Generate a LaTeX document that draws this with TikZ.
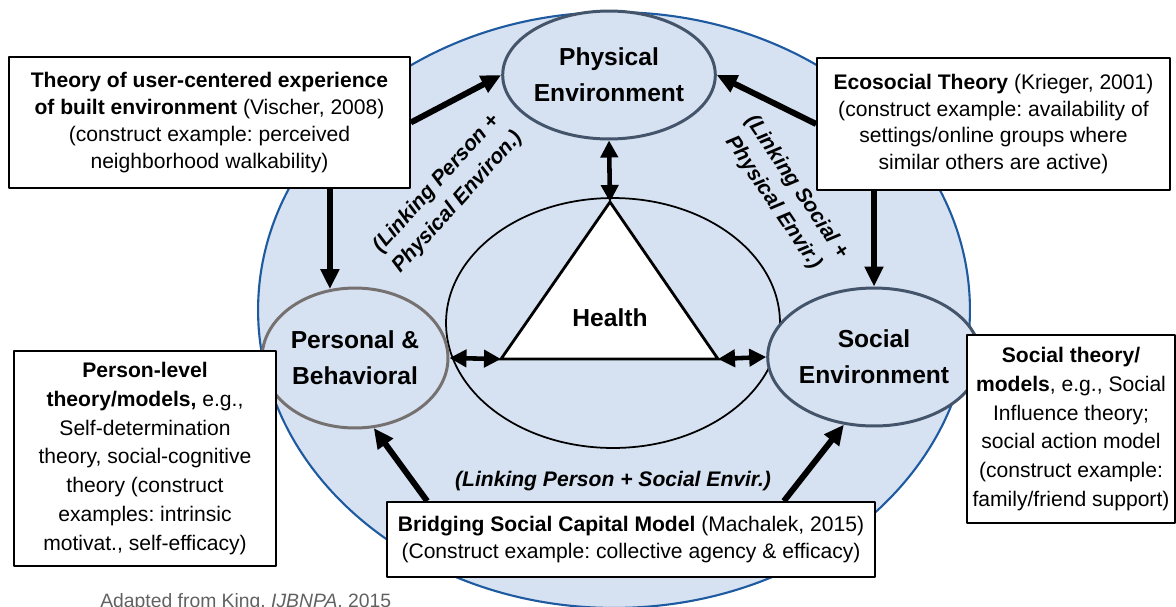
\documentclass[tikz,border=0pt]{standalone}
\usepackage{fontspec}
\setmainfont{Liberation Sans}
\usetikzlibrary{arrows.meta,shapes.geometric}
\definecolor{bgblue}{RGB}{214,226,241}
\definecolor{rimblue}{RGB}{30,90,160}
\definecolor{slate}{RGB}{68,84,106}
\definecolor{warmgray}{RGB}{118,113,113}
\frenchspacing
\begin{document}
\begin{tikzpicture}[
		x=0.02cm, y=-0.02cm,
		line join=round,
		font=\fontsize{12}{15.2}\selectfont,
		theorybox/.style={draw=black, line width=1pt, fill=white, align=center, inner sep=0pt},
		sidebox/.style={theorybox, font=\fontsize{12}{16.4}\selectfont},
		sphere/.style={ellipse, fill=bgblue, line width=1.7pt, inner sep=0pt, align=center,
			font=\fontsize{14}{20.5}\selectfont\bfseries},
		bigarrow/.style={-{Triangle[length=0.4cm,width=0.36cm]}, line width=3.4pt},
		twoway/.style={{Triangle[length=0.34cm,width=0.34cm]}-{Triangle[length=0.34cm,width=0.34cm]}, line width=2.6pt},
		linktext/.style={font=\fontsize{12}{16}\selectfont\bfseries\itshape, align=center}
	]
	
	\useasboundingbox (0,0) rectangle (1176,606);
	
	% Outer ellipse
	\node[ellipse, fill=bgblue, draw=rimblue, line width=1.2pt,
		minimum width=14.24cm, minimum height=11.92cm] (outer) at (614,310) {};
	
	% Ring around health
	\node[ellipse, draw=black, line width=1pt,
		minimum width=6.68cm, minimum height=5cm] (ring) at (613,323) {};
	
	% Health triangle
	\coordinate (apex) at (610,202);
	\coordinate (left) at (501,359);
	\coordinate (right) at (718,359);
	\draw[fill=white, line width=1.6pt, line join=miter] (apex) -- (left) -- (right) -- cycle;
	\node[font=\fontsize{14}{17}\selectfont\bfseries] (health) at (610,318) {Health};
	
	% Three spheres
	\node[sphere, draw=slate, minimum width=3.76cm, minimum height=2.56cm] (phys) at (609,75)
		{Physical\\Environment};
	\node[sphere, draw=warmgray, minimum width=3.72cm, minimum height=2.8cm] (pers) at (355,358)
		{Personal \&\\Behavioral};
	\node[sphere, draw=slate, minimum width=3.76cm, minimum height=2.76cm] (soc) at (874,357)
		{Social\\Environment};
	
	% Theory boxes
	\node[theorybox, minimum width=8.02cm, minimum height=2.62cm] (built) at (209.5,122.5)
		{\textbf{Theory of user-centered experience}\\
		 \textbf{of built environment} (Vischer, 2008)\\
		 (construct example: perceived\\
		 neighborhood walkability)};
	\node[theorybox, minimum width=7.06cm, minimum height=2.64cm] (eco) at (993.5,124)
		{\textbf{Ecosocial Theory} (Krieger, 2001)\\
		 (construct example: availability of\\
		 settings/online groups where\\
		 similar others are active)};
	\node[sidebox, minimum width=5.24cm, minimum height=4.3cm] (person) at (145,458.5)
		{\textbf{Person-level}\\
		 \textbf{theory/models,} e.g.,\\
		 Self-determination\\
		 theory, social-cognitive\\
		 theory (construct\\
		 examples: intrinsic\\
		 motivat., self-efficacy)};
	\node[sidebox, minimum width=4.16cm, minimum height=3.76cm] (social) at (1071,429)
		{\textbf{Social theory/}\\
		 \textbf{models}, e.g., Social\\
		 Influence theory;\\
		 social action model\\
		 (construct example:\\
		 family/friend support)};
	\node[theorybox, minimum width=9.76cm, minimum height=1.5cm] (bridge) at (631,539.5)
		{\textbf{Bridging Social Capital Model} (Machalek, 2015)\\
		 (Construct example: collective agency \& efficacy)};
	
	% Linking labels
	\node[linktext, rotate=48] (linkpp) at (447,193) {(Linking Person +\\Physical Environ.)};
	\node[linktext, rotate=-56] (linksp) at (785,195) {(Linking Social +\\Physical Envir.)};
	\node[linktext] (linkps) at (613,481) {(Linking Person + Social Envir.)};
	
	% Arrows from theories
	\draw[bigarrow] (built.east) -- (phys.west);
	\draw[bigarrow] (eco.west) -- (phys.east);
	\draw[bigarrow] (pers.110 |- built.south) -- (pers.110);
	\draw[bigarrow] (soc.north |- eco.south) -- (soc.north);
	\draw[bigarrow] ([xshift=0.82cm]bridge.north west) -- (pers.-75);
	\draw[bigarrow] ([xshift=-1.84cm]bridge.north east) -- (soc.-114);
	
	% Links with health
	\draw[twoway] (phys.south) -- (apex);
	\draw[twoway] (pers.east) -- (left);
	\draw[twoway] (right) -- (soc.west);
	
	% Source
	\node[anchor=base west, text=black!62, font=\fontsize{11}{13}\selectfont, inner sep=0pt] (source) at (100,607)
		{Adapted from King, \textit{IJBNPA}, 2015};
	
\end{tikzpicture}
\end{document}
